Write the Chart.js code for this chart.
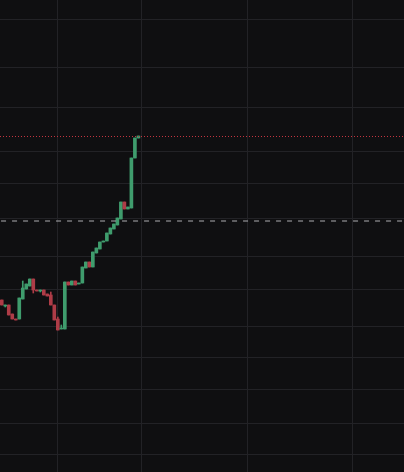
<!DOCTYPE html>
<html>
<head>
<meta charset="utf-8">
<script src="https://cdn.jsdelivr.net/npm/chart.js@4"></script>
<style>
  html, body { margin: 0; padding: 0; background: #0f0f11; }
  #wrap { width: 404px; height: 472px; }
</style>
</head>
<body>
<div id="wrap"><canvas id="chart"></canvas></div>
<script>
// candle index = position on the time axis (empty slots on the right)
const opens  = [172, 166, 167, 158, 153, 153, 173, 183, 186, 193, 182, 181, 182, 178, 177, 167, 153, 143, 143, 190,
                187, 191, 188, 189, 204, 210, 205, 219, 223, 230, 231, 238, 243, 247, 253, 270, 263, 264, 314, 334];
const closes = [167, 167, 157, 153, 152, 174, 184, 188, 193, 182, 181, 182, 177, 176, 167, 152, 142, 144, 190, 187,
                191, 187, 189, 205, 210, 205, 220, 224, 230, 231, 239, 244, 248, 254, 270, 263, 265, 314, 334, 336];
const highs  = [172, 167, 167, 158, 153, 174, 191, 188, 193, 193, 182, 182, 182, 178, 180, 167, 155, 147, 190, 190,
                191, 191, 189, 205, 210, 210, 220, 224, 230, 231, 239, 244, 248, 254, 270, 270, 265, 314, 334, 336];
const lows   = [167, 165, 157, 153, 152, 153, 173, 183, 186, 179, 181, 180, 177, 176, 167, 152, 142, 143, 143, 187,
                187, 187, 188, 189, 204, 205, 205, 219, 223, 230, 231, 238, 243, 247, 253, 263, 263, 264, 314, 334];

const slotCount = 115;          // visible time slots
const timeGrid  = [16, 40, 70, 100];
const priceGrid = [18, 49, 83, 114.5, 145.5, 182.5, 215.5, 253.5, 288.5, 320.5, 364.5, 404.5, 452.5];
const lastPrice = 335.5;        // red dotted line
const refPrice  = 251;          // grey dashed line

const up = '#3f9c6d';
const down = '#ae3c47';
const colors = opens.map((o, i) => closes[i] >= o ? up : down);

const bodies = opens.map((o, i) => ({ x: i, y: [o, closes[i]] }));
const wicks = lows.map((l, i) => ({ x: i, y: [l, highs[i]] }));

const xMin = -0.5, xMax = slotCount - 0.2;

new Chart(document.getElementById('chart'), {
  type: 'bar',
  data: {
    datasets: [
      {
        type: 'line',
        data: [{ x: xMin, y: lastPrice }, { x: xMax, y: lastPrice }],
        borderColor: '#c2343f',
        borderWidth: 1,
        borderDash: [1, 2],
        pointRadius: 0
      },
      {
        type: 'line',
        data: [{ x: xMin + 0.3, y: refPrice }, { x: xMax, y: refPrice }],
        borderColor: '#adadb1',
        borderWidth: 1,
        borderDash: [5, 6],
        pointRadius: 0
      },
      {
        data: bodies,
        backgroundColor: colors,
        borderWidth: 0,
        barThickness: 3,
        grouped: false
      },
      {
        data: wicks,
        backgroundColor: colors,
        borderWidth: 0,
        barThickness: 1,
        grouped: false
      }
    ]
  },
  options: {
    responsive: true,
    maintainAspectRatio: false,
    animation: false,
    layout: { padding: 0 },
    plugins: { legend: { display: false }, tooltip: { enabled: false } },
    scales: {
      x: {
        type: 'linear',
        min: xMin,
        max: xMax,
        offset: false,
        border: { display: false },
        grid: { color: '#222226', lineWidth: 1, drawTicks: false, offset: false },
        ticks: { display: false },
        afterBuildTicks: s => { s.ticks = timeGrid.map(v => ({ value: v })); }
      },
      y: {
        min: 0,
        max: 472,
        border: { display: false },
        grid: { color: '#222226', lineWidth: 1, drawTicks: false },
        ticks: { display: false },
        afterBuildTicks: s => { s.ticks = priceGrid.map(v => ({ value: v })); }
      }
    }
  }
});
</script>
</body>
</html>
